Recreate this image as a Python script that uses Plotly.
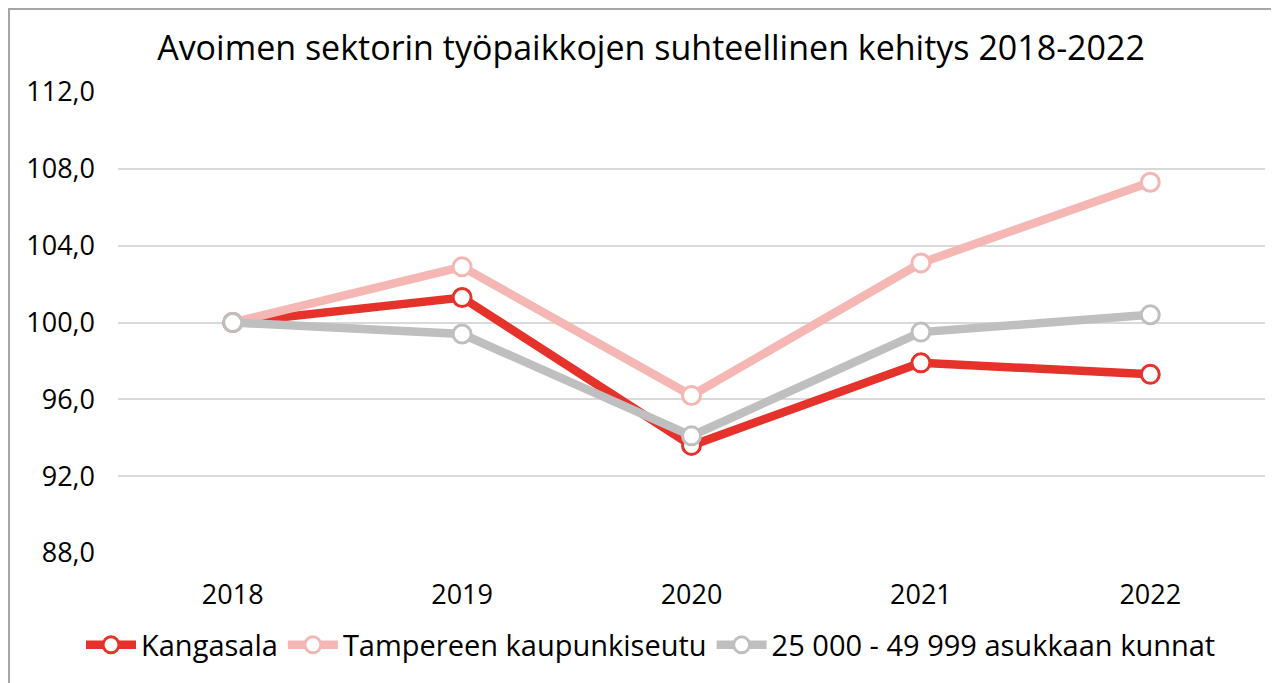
import plotly.graph_objects as go

years = ["2018", "2019", "2020", "2021", "2022"]
kangasala = [100.0, 101.3, 93.6, 97.9, 97.3]
tampere_seutu = [100.0, 102.9, 96.2, 103.1, 107.3]
kunnat_25_50k = [100.0, 99.4, 94.1, 99.5, 100.4]
y_ticks = [88, 92, 96, 100, 104, 108, 112]
y_tick_labels = ["88,0", "92,0", "96,0", "100,0", "104,0", "108,0", "112,0"]

series = [
    ("Kangasala", kangasala, "#E5322B"),
    ("Tampereen kaupunkiseutu", tampere_seutu, "#F5B7B3"),
    ("25 000 - 49 999 asukkaan kunnat", kunnat_25_50k, "#BFBFBF"),
]

FONT = "Open Sans"
fig = go.Figure()
for name, vals, col in series:
    fig.add_trace(go.Scatter(
        x=years, y=vals, name=name, mode="lines+markers",
        line=dict(color=col, width=8.5),
        marker=dict(size=18, color="white", line=dict(color=col, width=3)),
    ))

# page has an 8px body margin: figure origin sits at page (8, 8)
OFF = 8
W, H = 1279 - OFF, 683 - OFF
L, R, T, B = 118 - OFF, 14, 92 - OFF, 125
pw, ph = W - L - R, H - T - B

fig.update_layout(
    width=W, height=H,
    margin=dict(l=L, r=R, t=T, b=B),
    paper_bgcolor="white", plot_bgcolor="white",
    font=dict(family=FONT, color="black", size=27),
    title=dict(text="Avoimen sektorin työpaikkojen suhteellinen kehitys 2018-2022",
               x=(651 - OFF) / W, xanchor="center", y=1 - (48 - OFF) / H, yanchor="middle",
               font=dict(size=34, family=FONT, color="black")),
    xaxis=dict(type="category", range=[-0.5, 4.5], showgrid=False, showline=False,
               ticks="", tickfont=dict(size=27), ticklabelstandoff=23),
    yaxis=dict(range=[88, 112], tickvals=y_ticks, ticktext=y_tick_labels,
               showgrid=True, gridcolor="#D9D9D9", gridwidth=1.5, zeroline=False,
               showline=False, ticks="", tickfont=dict(size=27), ticklabelstandoff=22),
    legend=dict(orientation="h", x=((651 - OFF) - L) / pw, xanchor="center",
                y=-((651 - OFF) - (T + ph)) / ph, yanchor="middle",
                font=dict(size=29, family=FONT), tracegroupgap=0, itemwidth=50),
    showlegend=True,
    shapes=[dict(type="rect", xref="paper", yref="paper",
                 x0=(1 - L) / pw, x1=(W + 20 - L) / pw,
                 y0=-(H + 20 - T - ph) / ph, y1=1 + (T - 0) / ph,
                 line=dict(color="#A6A6A6", width=2), fillcolor="rgba(0,0,0,0)",
                 layer="below")],
)

fig.write_html("out.html")
